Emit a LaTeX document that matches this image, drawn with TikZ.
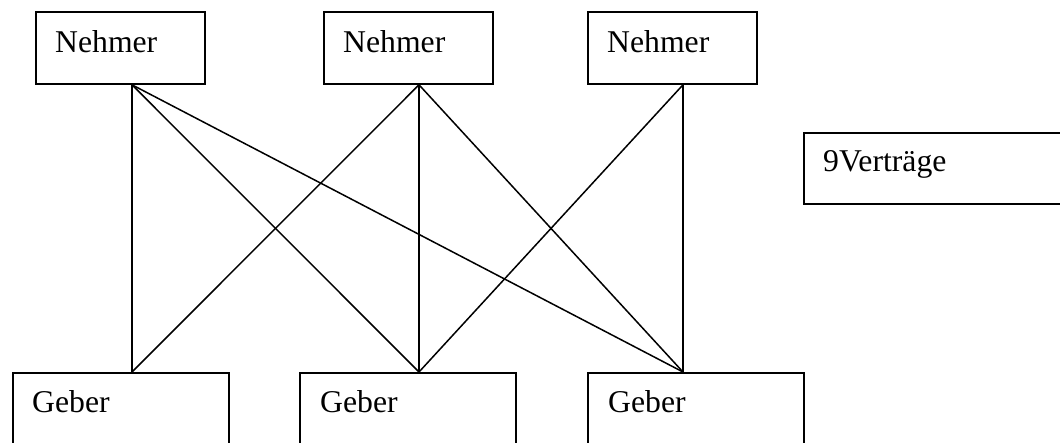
\documentclass[tikz,border=0pt]{standalone}
\usepackage{fontspec}
\setmainfont{Liberation Serif}
\usetikzlibrary{calc}
\begin{document}
\begin{tikzpicture}[x=1pt,y=-1pt,
  box/.style={draw,line width=1.8pt,rectangle,inner sep=0pt,anchor=north west},
  topbox/.style={box,minimum width=169pt,minimum height=72pt},
  botbox/.style={box,minimum width=216pt,minimum height=72pt},
  lbl/.style={inner sep=0pt,anchor=base west,font=\fontsize{31.7}{38}\selectfont},
  link/.style={line width=1.5pt}]
\useasboundingbox (0,0) rectangle (1060,443);
\clip (0,0) rectangle (1060,443);

% takers (top row)
\node[topbox] (n1) at (35,11) {};
\node[topbox] (n2) at (323,11) {};
\node[topbox] (n3) at (587,11) {};
% givers (bottom row)
\node[botbox] (g1) at (12,372) {};
\node[botbox] (g2) at (299,372) {};
\node[botbox] (g3) at (587,372) {};
% contract count
\node[box,minimum width=280pt,minimum height=71pt] (v) at (803,132) {};

% labels
\node[lbl] (t1) at ($(n1.north west)+(20,42)$) {Nehmer};
\node[lbl] (t2) at ($(n2.north west)+(20,42)$) {Nehmer};
\node[lbl] (t3) at ($(n3.north west)+(20,42)$) {Nehmer};
\node[lbl] (b1) at ($(g1.north west)+(20,41)$) {Geber};
\node[lbl] (b2) at ($(g2.north west)+(21,41)$) {Geber};
\node[lbl] (b3) at ($(g3.north west)+(21,41)$) {Geber};
\node[lbl] (tv) at ($(v.north west)+(20,40)$) {9Verträge};

% attachment points on the box edges
\coordinate (n1p) at ($(n1.south west)+(97,0)$);
\coordinate (n2p) at ($(n2.south west)+(96,0)$);
\coordinate (n3p) at ($(n3.south west)+(96,0)$);
\coordinate (g1p) at ($(g1.north west)+(120,0)$);
\coordinate (g2p) at ($(g2.north west)+(120,0)$);
\coordinate (g3p) at ($(g3.north west)+(96,0)$);

% contracts
\draw[link] (n1p) -- (g1p);
\draw[link] (n1p) -- (g2p);
\draw[link] (n1p) -- (g3p);
\draw[link] (n2p) -- (g1p);
\draw[link] (n2p) -- (g2p);
\draw[link] (n2p) -- (g3p);
\draw[link] (n3p) -- (g2p);
\draw[link] (n3p) -- (g3p);
\end{tikzpicture}
\end{document}
